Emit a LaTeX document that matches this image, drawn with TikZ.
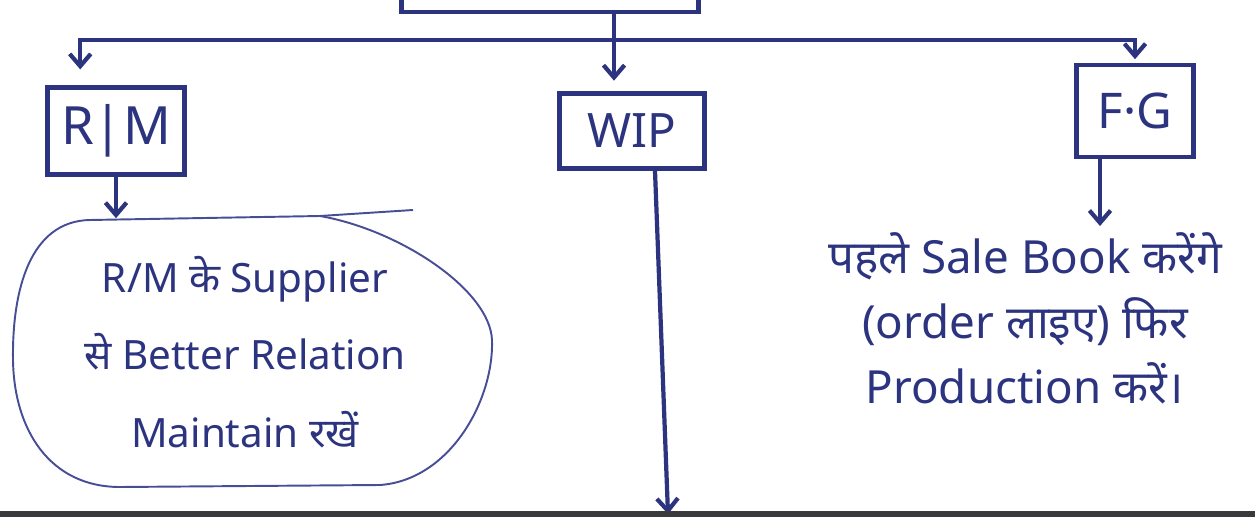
\documentclass[tikz,border=0pt]{standalone}
\usepackage{fontspec}
\setmainfont{Noto Sans}[Script=Devanagari]
\usetikzlibrary{arrows.meta}
\definecolor{ink}{RGB}{44,52,128}
\definecolor{inklight}{RGB}{72,78,150}
\definecolor{darkbar}{RGB}{58,58,60}
\tikzset{>={Straight Barb[length=7pt,width=12pt]}}
\tikzset{
  box/.style={draw=ink,line width=2.6pt,text=ink,inner sep=0pt},
  link/.style={draw=ink,line width=2.4pt,->},
  note/.style={text=ink,align=center,font=\fontsize{23}{44}\selectfont},
  outline/.style={draw=inklight,line width=1.1pt},
}

\begin{document}
\begin{tikzpicture}[x=0.02cm,y=-0.02cm]
  \useasboundingbox (0,0) rectangle (1255,517);
  \clip (0,0) rectangle (1255,517);
  % boxes
  \node[box,minimum width=5.94cm,minimum height=1.2cm] (top) at (550,-18) {};
  \node[box,minimum width=2.74cm,minimum height=1.74cm,font=\fontsize{30}{30}\selectfont] (rm) at (116,131) {R|M};
  \node[box,minimum width=2.9cm,minimum height=1.5cm,font=\fontsize{27}{27}\selectfont] (wip) at (632,131) {WIP};
  \node[box,minimum width=2.34cm,minimum height=1.84cm,font=\fontsize{28}{28}\selectfont] (fg) at (1135,111) {F·G};
  % notes
  \node[note,minimum width=9.7cm,minimum height=5.34cm] (rmnote) at (245,352)
        {R/M के Supplier\\से Better Relation\\Maintain रखें};
  \draw[outline] (90,220) -- (320,216)
        .. controls (400,230) and (490,290) .. (492,340)
        .. controls (494,400) and (450,480) .. (380,485)
        -- (120,487)
        .. controls (50,487) and (14,430) .. (13,360)
        .. controls (12,290) and (30,221) .. (90,220) -- cycle;
  \node[note,font=\fontsize{26}{37}\selectfont] (fgnote) at (1025,318)
        {पहले Sale Book करेंगे\\(order लाइए) फिर\\Production करें।};
  % connectors
  \coordinate (split) at (614,40);
  \coordinate (fgdrop) at ([xshift=-0.7cm]fg.south);
  \coordinate (wipdrop) at ([xshift=0.46cm]wip.south);
  \coordinate (wipend) at (668,514);
  \draw[link,shorten >=6pt] (top.south -| split) -- (split |- wip.north);
  \draw[link,shorten >=9pt] (split) -| ([xshift=0.7cm]rm.north west);
  \draw[link,shorten >=2pt] (split) -| (fg.north);
  \draw[link] (rm.south) -- (rmnote.north -| rm.south);
  \draw[outline] (320,216) -- (413,210);
  \draw[link] (fgdrop) -- (fgnote.north -| fgdrop);
  \draw[link] (wipdrop) -- (wipend);
  \fill[darkbar] (0,511) rectangle (1255,517);
\end{tikzpicture}
\end{document}
